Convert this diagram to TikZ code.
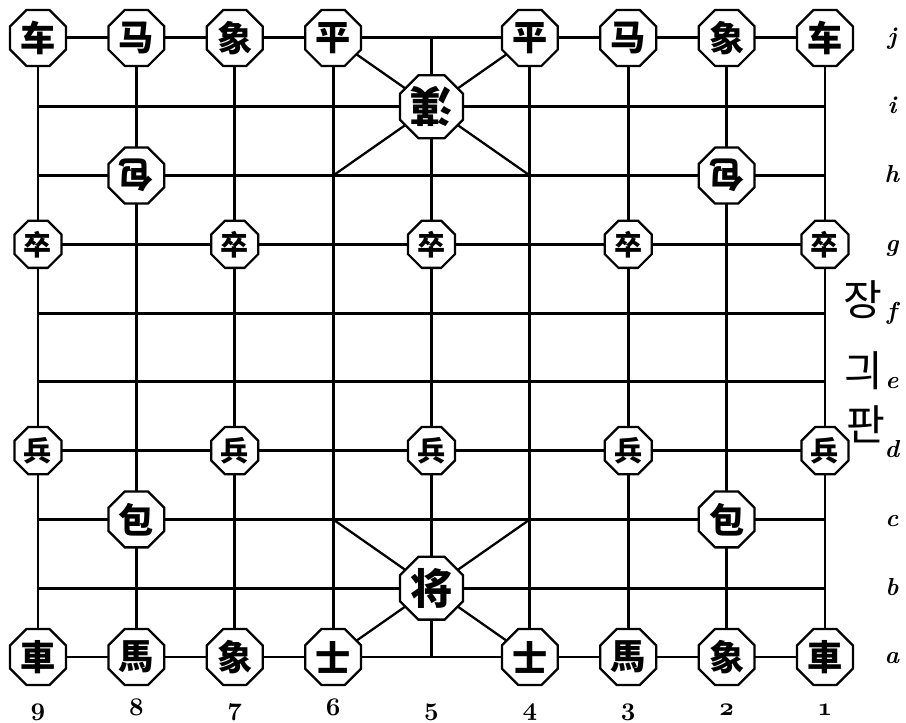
\documentclass[tikz,border=0pt]{standalone}
\usepackage{fontspec}
\newfontfamily\cjk{Noto Sans CJK SC}
\newfontfamily\kr{Noto Sans CJK KR}
\usetikzlibrary{shapes.geometric, positioning}

\begin{document}
\begin{tikzpicture}[x=1.9675cm, y=1.3756cm,
  piece/.style={draw, line width=1.3pt, fill=white, regular polygon, regular polygon sides=8,
    minimum size=1.21cm, inner sep=0pt, font=\cjk\bfseries\fontsize{20}{20}\selectfont},
  pawn/.style={piece, minimum size=1.02cm, font=\cjk\bfseries\fontsize{16}{16}\selectfont},
  general/.style={piece, minimum size=1.36cm, font=\cjk\bfseries\fontsize{24}{24}\selectfont},
  filenum/.style={font=\fontsize{15}{15}\usefont{OML}{cmm}{b}{it}, anchor=base},
  ranklet/.style={font=\fontsize{14}{14}\selectfont\bfseries\itshape, anchor=base},
  title/.style={font=\kr\fontsize{24}{24}\selectfont, inner sep=0pt}]
  \useasboundingbox (-0.76cm,-1.32cm) rectangle (17.36cm,13.14cm);
  % Board
  \foreach \k in {0,...,8} \draw[line width=1.7pt] (\k,0) -- (\k,9);
  \foreach \r in {0,...,9} \draw[line width=1.7pt] (0,\r) -- (8,\r);
  % Palaces
  \draw[line width=1.3pt] (3,9) -- (5,7) (5,9) -- (3,7) (3,2) -- (5,0) (5,2) -- (3,0);
  % Upper side
  \foreach \f/\lab in {9/车, 8/马, 7/象, 6/平, 4/平, 3/马, 2/象, 1/车} {
    \node[piece] (j\f) at (9-\f,9) {\lab};
  }
  \node[general] (i5) at (4,8) {\rotatebox[origin=c]{180}{漢}};
  \node[piece] (h8) at (1,7) {\rotatebox[origin=c]{180}{包}};
  \node[piece] (h2) at (7,7) {\rotatebox[origin=c]{180}{包}};
  \foreach \f in {9,7,5,3,1} {
    \node[pawn] (g\f) at (9-\f,6) {卒};
  }
  % Lower side
  \foreach \f in {9,7,5,3,1} {
    \node[pawn] (d\f) at (9-\f,3) {兵};
  }
  \node[piece] (c8) at (1,2) {包};
  \node[piece] (c2) at (7,2) {包};
  \node[general] (b5) at (4,1) {将};
  \foreach \f/\lab in {9/車, 8/馬, 7/象, 6/士, 4/士, 3/馬, 2/象, 1/車} {
    \node[piece] (a\f) at (9-\f,0) {\lab};
  }
  % Files and ranks
  \foreach \f in {9,...,1} {
    \node[filenum] (n\f) at (9-\f,-0.85) {\f};
  }
  \foreach \r/\l in {0/a, 1/b, 2/c, 3/d, 4/e, 5/f, 6/g, 7/h, 8/i, 9/j} {
    \node[ranklet] (r\l) at (8.68,\r-0.1) {\l};
  }
  % Title
  \node[title] (jang) at (8.39,5.19) {장};
  \node[title] (gui) at (8.40,4.16) {긔};
  \node[title] (pan) at (8.42,3.38) {판};
\end{tikzpicture}
\end{document}
